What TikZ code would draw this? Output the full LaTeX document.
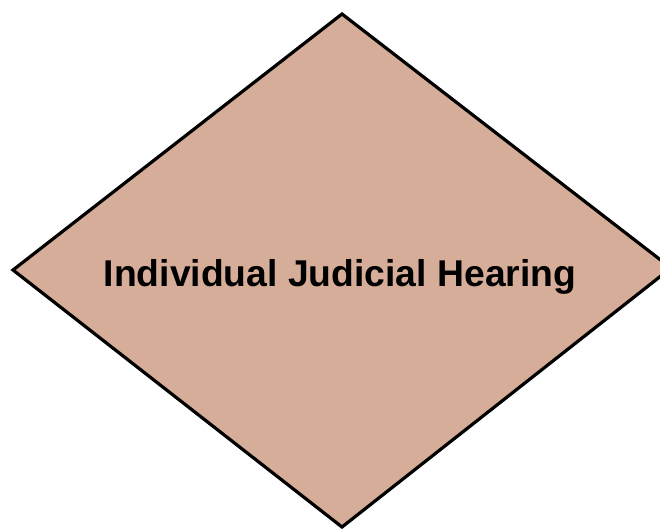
\documentclass[tikz,border=0pt]{standalone}
\usepackage{fontspec}
\setmainfont{Liberation Sans}
\definecolor{dfill}{RGB}{214,173,152}
\begin{document}
\begin{tikzpicture}[x=1pt,y=-1pt,
  dia/.style={draw=black,line width=3.2pt,fill=dfill,line join=miter},
  lbl/.style={font=\bfseries\fontsize{37.3}{44}\selectfont,text=black,anchor=base,inner sep=0pt}]
\useasboundingbox (0,0) rectangle (660,531);
\clip (0,0) rectangle (660,531);
\coordinate (t) at (342,14);
\coordinate (l) at (13,270);
\coordinate (r) at (671,268);
\coordinate (b) at (342,527);
\draw[dia] (t) -- (r) -- (b) -- (l) -- cycle;
\node[lbl] (txt) at (340,286) {Individual Judicial Hearing};
\end{tikzpicture}
\end{document}
